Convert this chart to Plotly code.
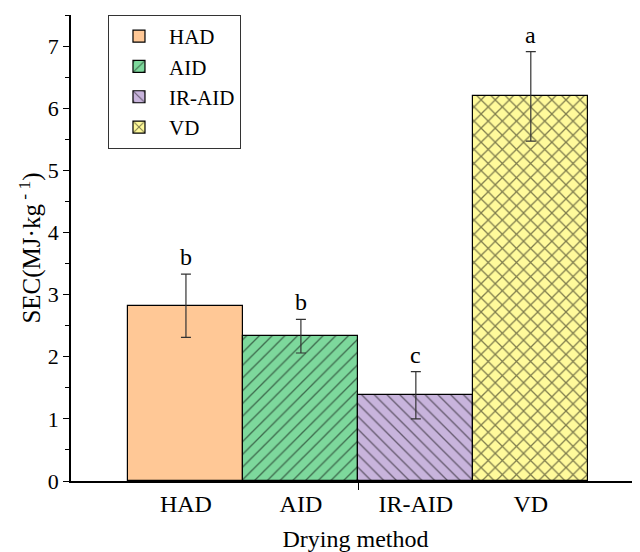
import plotly.graph_objects as go

categories = ["HAD", "AID", "IR-AID", "VD"]
positions = [1, 2, 3, 4]
sec_mean = [2.82, 2.33, 1.38, 6.19]
sec_err = [0.51, 0.27, 0.38, 0.72]
letters = ["b", "b", "c", "a"]
colors = ["#FFC896", "#7DD89C", "#C8B4DC", "#FFFA9B"]
patterns = ["", "/", "\\", "x"]
pattern_sizes = [9, 9, 9, 10]
pattern_solid = [0.15, 0.15, 0.15, 0.24]
y_ticks = [0, 1, 2, 3, 4, 5, 6, 7]

FONT = "Liberation Serif"

fig = go.Figure()
for cat, x, m, e, c, p, ps, so in zip(categories, positions, sec_mean, sec_err, colors,
                                      patterns, pattern_sizes, pattern_solid):
    fig.add_trace(go.Bar(
        x=[x], y=[m], name=cat, width=1.0,
        marker=dict(color=c, line=dict(color="black", width=1.2),
                    pattern=dict(shape=p, fgcolor="black", bgcolor=c, size=ps, solidity=so)),
        error_y=dict(type="data", array=[e], visible=True, color="#333333", thickness=1.2, width=5),
    ))

for x, m, e, t in zip(positions, sec_mean, sec_err, letters):
    fig.add_annotation(x=x, y=m + e, text=t, showarrow=False, yanchor="bottom", yshift=2,
                       font=dict(family=FONT, size=24, color="black"))

# page body has an 8px default margin, so the figure is sized to fill the rest of the window
fig.update_layout(
    width=632, height=544,
    margin=dict(l=63, r=0, t=7, b=71),
    plot_bgcolor="white", paper_bgcolor="white",
    font=dict(family=FONT, size=22, color="black"),
    bargap=0,
    showlegend=True,
    legend=dict(x=0.065, y=1.0, xanchor="left", yanchor="top",
                bordercolor="#333333", borderwidth=1, bgcolor="white",
                font=dict(family=FONT, size=21), tracegroupgap=0, itemwidth=50),
    xaxis=dict(range=[0, 4.95], tickmode="array", tickvals=positions, ticktext=categories,
               ticks="", showline=True, linecolor="black", linewidth=1.5, zeroline=False,
               showgrid=False, tickfont=dict(family=FONT, size=24), automargin=False,
               minor=dict(tickmode="array", tickvals=[2.5], ticks="outside", ticklen=7,
                          tickwidth=1.2, tickcolor="black", showgrid=False),
               title=dict(text="Drying method", font=dict(family=FONT, size=24))),
    yaxis=dict(range=[0, 7.5], tickvals=y_ticks, ticks="outside", ticklen=6, tickwidth=1.2,
               tickcolor="black", showline=True, linecolor="black", linewidth=1.5,
               zeroline=False, showgrid=False, tickfont=dict(family=FONT, size=22),
               automargin=True,
               minor=dict(dtick=0.5, ticks="outside", ticklen=4, tickwidth=1.2, tickcolor="black", showgrid=False),
               title=dict(text="SEC(MJ·kg<sup> - 1</sup>)", font=dict(family=FONT, size=25), standoff=0)),
)

fig.write_html("out.html")
